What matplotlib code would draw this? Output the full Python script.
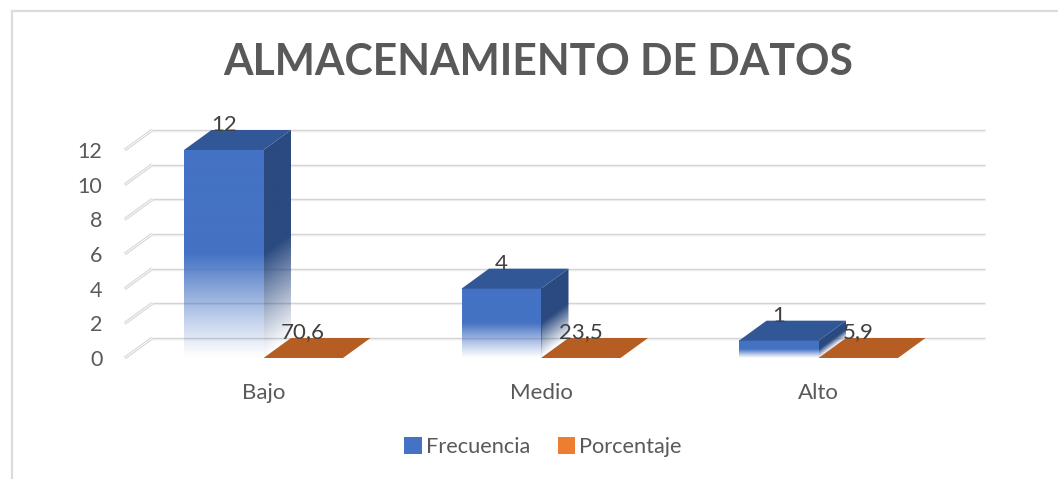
import numpy as np
import matplotlib
matplotlib.use("Agg")
import matplotlib.pyplot as plt
from matplotlib.colors import to_rgb
from matplotlib.patches import Polygon, Patch
from matplotlib.lines import Line2D

categories = ["Bajo", "Medio", "Alto"]
frecuencia = [12, 4, 1]
porcentaje = [70.6, 23.5, 5.9]
porcentaje_labels = ["70,6", "23,5", "5,9"]
porcentaje_drawn = [0, 0, 0]
y_ticks = [0, 2, 4, 6, 8, 10, 12]

W, H = 1058, 479
plt.rcParams["font.family"] = ["Lato", "DejaVu Sans"]
fig = plt.figure(figsize=(W / 100, H / 100), dpi=100)
fig.patch.set_facecolor("white")

# axes: front plane of the 3-D box
L, R, T, B = 124.75, 957.25, 150.0, 358.0
ax = fig.add_axes([L / W, 1 - B / H, (R - L) / W, (B - T) / H])
ax.set_xlim(-0.5, 2.5)
ax.set_ylim(0, 12)
ax.patch.set_alpha(0)
for s in ax.spines.values():
    s.set_visible(False)

DX = 27.5 * 3 / (R - L)      # depth, in data units
DY = 20.0 * 12 / (B - T)
BW = 79.5 * 3 / (R - L)      # bar width, in data units

# back wall gridlines and left wall diagonals
for v in y_ticks:
    ax.plot([-0.5 + DX, 2.5 + DX], [v + DY, v + DY], color="#CFCFCF", lw=1.0,
            clip_on=False, zorder=1, solid_capstyle="butt")
    ax.plot([-0.5 + DX, 2.5 + DX], [v + DY - 0.06, v + DY - 0.06], color="#EDEDED", lw=1.0,
            clip_on=False, zorder=1, solid_capstyle="butt")
    ax.plot([-0.5, -0.5 + DX], [v, v + DY], color="#D4D4D4", lw=2.2,
            clip_on=False, zorder=1, solid_capstyle="butt")
    ax.plot([-0.5, -0.5 + DX], [v, v + DY], color="#F4F4F4", lw=0.9,
            clip_on=False, zorder=1.1, solid_capstyle="butt")


def fade_image(x0, x1, y0, y1, color, height, skew=0.0, clip=None, zorder=3):
    """Vertical colour-to-white fade over the lower half of a bar."""
    n = 300
    xs = np.linspace(0, 1, 40)
    ys = np.linspace(y0, y1, n)
    xx, yy = np.meshgrid(xs, ys)
    yy_eff = yy - skew * xx
    alpha = np.clip(yy_eff / (height * 0.5), 0, 1) ** 1.1
    rgba = np.zeros((n, 40, 4))
    rgba[..., :3] = to_rgb(color)
    rgba[..., 3] = alpha
    im = ax.imshow(rgba, extent=(x0, x1, y0, y1), origin="lower", aspect="auto",
                   zorder=zorder, interpolation="bilinear")
    im.set_clip_box(fig.bbox)
    if clip is not None:
        im.set_clip_path(clip)
    else:
        im.set_clip_path(None)
    return im


FRONT, TOP, SIDE, ORANGE_TOP = "#4472C4", "#325796", "#2A4A80", "#B55D23"

for i, (cat, val, lab, pd_) in enumerate(zip(categories, frecuencia, porcentaje_labels, porcentaje_drawn)):
    x0 = i - BW
    x1 = i
    # blue front face (fading to white toward the floor)
    fade_image(x0, x1, 0, val, FRONT, val, zorder=3)
    # blue side face
    side = Polygon([(x1, 0), (x1 + DX, DY), (x1 + DX, val + DY), (x1, val)],
                   closed=True, facecolor="none", edgecolor="none", transform=ax.transData)
    ax.add_patch(side)
    side.set_clip_on(False)
    fade_image(x1, x1 + DX, 0, val + DY, SIDE, val, skew=DY, clip=side, zorder=3)
    # blue top face
    ax.add_patch(Polygon([(x0, val), (x1, val), (x1 + DX, val + DY), (x0 + DX, val + DY)],
                         closed=True, facecolor=TOP, edgecolor="none", zorder=4, clip_on=False))
    # orange flat face
    ax.add_patch(Polygon([(x1, pd_), (x1 + BW, pd_), (x1 + BW + DX, pd_ + DY), (x1 + DX, pd_ + DY)],
                         closed=True, facecolor=ORANGE_TOP, edgecolor="none", zorder=2.5, clip_on=False))
    # data labels
    ax.text(x0 + BW / 2, val + DY * 1.25, str(val), ha="center", va="center",
            fontsize=16, color="#404040", zorder=6, clip_on=False)
    ax.text(x1 + BW / 2, pd_ + DY * 1.3, lab, ha="center", va="center",
            fontsize=16, color="#404040", zorder=6, clip_on=False)

ax.set_xticks(range(len(categories)))
ax.set_xticklabels(categories, fontsize=16, color="#595959")
ax.set_yticks(y_ticks)
ax.set_yticklabels([str(v) for v in y_ticks], fontsize=15.5, color="#595959")
ax.tick_params(axis="x", length=0, pad=18)
ax.tick_params(axis="y", length=0, pad=16)

fig.text(538 / W, 1 - 62 / H, "ALMACENAMIENTO DE DATOS", ha="center", va="center",
         fontsize=30.7, fontweight="bold", color="#595959")

handles = [Patch(facecolor="#4472C4", label="Frecuencia"),
           Patch(facecolor="#ED7D31", label="Porcentaje")]
fig.legend(handles=handles, loc="center", bbox_to_anchor=(543 / W, 1 - 447 / H), ncol=2,
           frameon=False, fontsize=15.7, labelcolor="#595959", handlelength=0.8, handleheight=0.8,
           handletextpad=0.2, columnspacing=1.25, borderpad=0)

# chart border
for xs, ys in [((12, 12), (479, 11)), ((12, 1058), (11, 11))]:
    fig.add_artist(Line2D([x / W for x in xs], [1 - y / H for y in ys],
                          color="#DCDCDC", lw=1.6, transform=fig.transFigure))

fig.savefig("out.png", dpi=100)
